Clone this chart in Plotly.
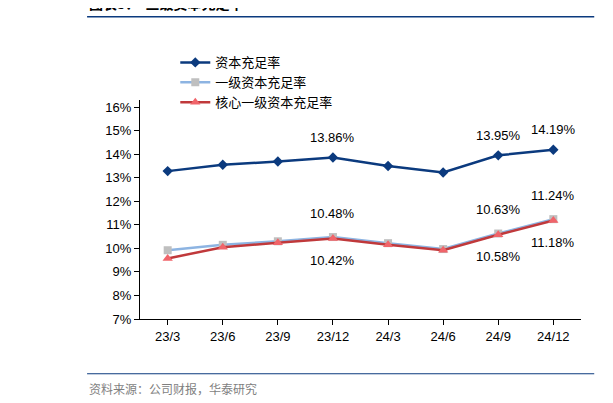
import plotly.graph_objects as go

cats = ["23/3","23/6","23/9","23/12","24/3","24/6","24/9","24/12"]
car = [13.28,13.55,13.69,13.86,13.50,13.22,13.95,14.19]
t1 = [9.92,10.15,10.30,10.48,10.22,9.97,10.63,11.24]
ct1 = [9.57,10.05,10.24,10.42,10.15,9.92,10.58,11.18]

fig = go.Figure()
fig.add_trace(go.Scatter(x=cats, y=car, name="资本充足率", mode="lines+markers",
    line=dict(color="#0B3A7E", width=2.5), marker=dict(symbol="diamond", size=8, color="#0B3A7E")))
fig.add_trace(go.Scatter(x=cats, y=t1, name="一级资本充足率", mode="lines+markers",
    line=dict(color="#8DB4E2", width=2.5), marker=dict(symbol="square", size=8, color="#BFBFBF")))
fig.add_trace(go.Scatter(x=cats, y=ct1, name="核心一级资本充足率", mode="lines+markers",
    line=dict(color="#C0393B", width=2.5), marker=dict(symbol="triangle-up", size=9, color="#F0646A")))

ann = [(3, car[3], "13.86%", 20), (6, car[6], "13.95%", 20), (7, car[7], "14.19%", 20),
       (3, t1[3], "10.48%", 24), (6, t1[6], "10.63%", 24), (7, t1[7], "11.24%", 24),
       (3, ct1[3], "10.42%", -22), (6, ct1[6], "10.58%", -22), (7, ct1[7], "11.18%", -22)]
for i, y, t, dy in ann:
    fig.add_annotation(x=cats[i], y=y, text=t, showarrow=False, yshift=dy,
                       font=dict(size=13, color="black", family="Arial"))

fig.update_layout(
    width=613, height=403, plot_bgcolor="white", paper_bgcolor="white",
    margin=dict(l=132, r=40, t=92, b=92),
    font=dict(family="Noto Sans CJK SC, Arial", size=13, color="black"),
    showlegend=True,
    legend=dict(orientation="h", x=0.08, y=1.24, xanchor="left", yanchor="top",
                font=dict(size=13), entrywidth=217, tracegroupgap=0),
    xaxis=dict(showline=True, linecolor="black", ticks="outside", tickcolor="black",
               ticklen=5, showgrid=False, tickfont=dict(family="Arial", size=13)),
    yaxis=dict(range=[7,16.3], tickvals=list(range(7,17)),
               ticktext=[f"{v}%" for v in range(7,17)], showline=True, linecolor="black",
               ticks="outside", tickcolor="black", ticklen=5, showgrid=False,
               tickfont=dict(family="Arial", size=13)),
)
fig.add_annotation(xref="paper", yref="paper", x=-0.12, y=1.39, xanchor="left", yanchor="bottom",
    text="<b>图表3：  三级资本充足率</b>", showarrow=False, font=dict(size=14, color="black"))
fig.add_shape(type="line", xref="paper", yref="paper", x0=-0.12, x1=1.03, y0=1.38, y1=1.38,
              line=dict(color="#0B3A7E", width=1.5))
fig.add_shape(type="line", xref="paper", yref="paper", x0=-0.12, x1=1.03, y0=-0.25, y1=-0.25,
              line=dict(color="#0B3A7E", width=1))
fig.add_annotation(xref="paper", yref="paper", x=-0.12, y=-0.27, xanchor="left", yanchor="top",
    text="资料来源：公司财报，华泰研究", showarrow=False, font=dict(size=12, color="#7F7F7F"))
fig.write_html("out.html")
